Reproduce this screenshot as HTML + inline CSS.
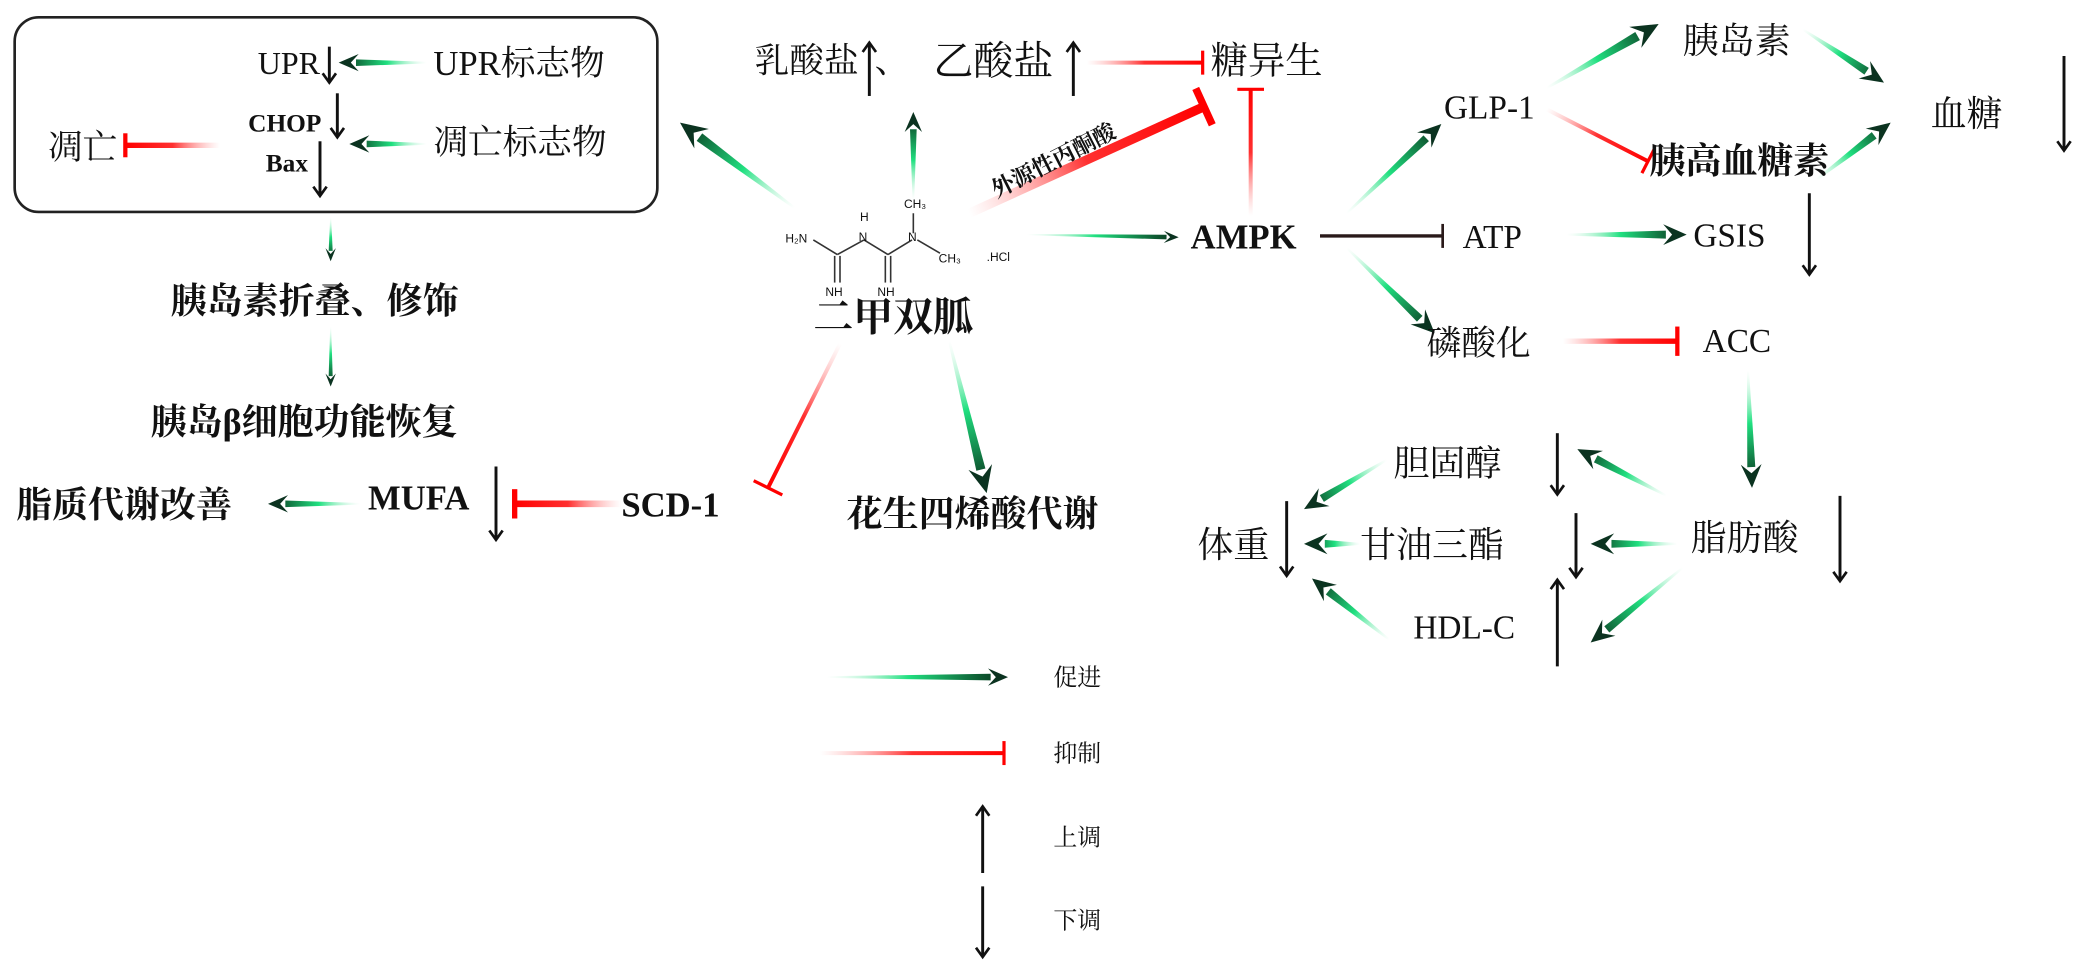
<!DOCTYPE html>
<html><head><meta charset="utf-8">
<style>
html,body{margin:0;padding:0;background:#fff;width:2080px;height:969px;overflow:hidden}
svg{display:block}
text{font-family:"Liberation Serif","Noto Serif CJK SC",serif;fill:#111}
.b{font-weight:bold}
</style></head>
<body>
<svg id="s" width="2080" height="969" viewBox="0 0 1560 727" preserveAspectRatio="none" xmlns="http://www.w3.org/2000/svg">
<defs id="d"></defs>
<rect x="11" y="13" width="482" height="146" rx="18" ry="18" fill="none" stroke="#222" stroke-width="2"/>
<g id="g"></g>
<g stroke="#333" stroke-width="1.2" fill="none">
<line x1="610" y1="180" x2="628" y2="191"/>
<line x1="628" y1="191" x2="648" y2="180"/>
<line x1="648" y1="180" x2="666" y2="191"/>
<line x1="666" y1="191" x2="684" y2="180"/>
<line x1="688" y1="180" x2="705" y2="190"/>
<line x1="685" y1="175" x2="685" y2="160"/>
<line x1="626" y1="192" x2="626" y2="212"/><line x1="630" y1="192" x2="630" y2="212"/>
<line x1="664" y1="192" x2="664" y2="212"/><line x1="668" y1="192" x2="668" y2="212"/>
</g>
<g style="font-size:9px">
<text x="589" y="182" style="font-family:'Liberation Sans',sans-serif">H₂N</text>
<text x="645" y="166" style="font-family:'Liberation Sans',sans-serif">H</text>
<text x="644" y="181" style="font-family:'Liberation Sans',sans-serif">N</text>
<text x="681" y="181" style="font-family:'Liberation Sans',sans-serif">N</text>
<text x="678" y="156" style="font-family:'Liberation Sans',sans-serif">CH₃</text>
<text x="704" y="197" style="font-family:'Liberation Sans',sans-serif">CH₃</text>
<text x="740" y="196" style="font-family:'Liberation Sans',sans-serif">.HCl</text>
<text x="619" y="222" style="font-family:'Liberation Sans',sans-serif">NH</text>
<text x="658" y="222" style="font-family:'Liberation Sans',sans-serif">NH</text>
</g>
<g id="t"></g>
</svg>
<script>
var NS="http://www.w3.org/2000/svg",D=document.getElementById('d'),G=document.getElementById('g'),T=document.getElementById('t'),n=0;
function el(p,tag,a){var e=document.createElementNS(NS,tag);for(var k in a)e.setAttribute(k,a[k]);p.appendChild(e);return e;}
function grad(x1,y1,x2,y2,stops){var id='g'+(n++);var g=el(D,'linearGradient',{id:id,gradientUnits:'userSpaceOnUse',x1:x1,y1:y1,x2:x2,y2:y2});stops.forEach(function(s){el(g,'stop',{offset:s[0],'stop-color':s[1],'stop-opacity':s[2]})});return 'url(#'+id+')';}
function ga(x1,y1,x2,y2,w){w=w||5;var dx=x2-x1,dy=y2-y1,L=Math.hypot(dx,dy),ux=dx/L,uy=dy/L,px=-uy,py=ux;var h=w*2.6;var bx=x2-ux*h,by=y2-uy*h;
var f=grad(x1,y1,x2,y2,[[0,'#b8f5d5',0],[0.45,'#20e080',1],[0.85,'#0e5a32',1],[1,'#0a2e1a',1]]);
var w0=w*0.25;el(G,'polygon',{points:[x1+px*w0/2,y1+py*w0/2,bx+px*w/2,by+py*w/2,bx-px*w/2,by-py*w/2,x1-px*w0/2,y1-py*w0/2].join(' '),fill:f});
var hw=w*1.3;el(G,'polygon',{points:[x2,y2,bx+px*hw-ux*2,by+py*hw-uy*2,bx+ux*h*0.3,by+uy*h*0.3,bx-px*hw-ux*2,by-py*hw-uy*2].join(' '),fill:'#0b3320'});}
function ra(x1,y1,x2,y2,w,tl,col){w=w||3;tl=tl||12;var dx=x2-x1,dy=y2-y1,L=Math.hypot(dx,dy),ux=dx/L,uy=dy/L,px=-uy,py=ux;
var f=col?col:grad(x1,y1,x2,y2,[[0,'#ff9a9a',0],[0.5,'#ff3030',1],[1,'#ff0000',1]]);
el(G,'line',{x1:x1,y1:y1,x2:x2,y2:y2,stroke:f,'stroke-width':w});
el(G,'line',{x1:x2+px*tl,y1:y2+py*tl,x2:x2-px*tl,y2:y2-py*tl,stroke:col?col:'#ff0000','stroke-width':Math.max(2,w*0.8)});}
function ka(x,y1,y2){el(G,'line',{x1:x,y1:y1,x2:x,y2:y2,stroke:'#111','stroke-width':2.2});var s=y2>y1?-1:1;
el(G,'polyline',{points:[x-5,y2+s*7,x,y2,x+5,y2+s*7].join(' '),fill:'none',stroke:'#111','stroke-width':2});}
function tx(s,x,y,sz,b,anchor,extra){var e=el(T,'text',{x:x,y:y+sz*0.36,'font-size':sz});if(b)e.setAttribute('class','b');if(anchor)e.setAttribute('text-anchor',anchor);if(extra)for(var k in extra)e.setAttribute(k,extra[k]);e.textContent=s;return e;}

tx('UPR',240,47,24,0,'end');ka(247,35,62);ga(320,47,254,47,5);tx('UPR标志物',325,47,26,0);
tx('CHOP',241,92,19,1,'end');ka(253,70,103);
tx('Bax',231,122,19,1,'end');ka(240,106,147);
ga(320,108,262,108,5);tx('凋亡标志物',325,106,26,0);
tx('凋亡',36,110,26,0);ra(165,109,94,109,4,9);
ga(248,163,248,196,3);tx('胰岛素折叠、修饰',128,225,27,1);
ga(248,245,248,290,3);tx('胰岛β细胞功能恢复',113,316,27,1);
tx('脂质代谢改善',12,378,27,1);ga(270,378,201,378,5);
tx('MUFA',276,373,26,1);ka(372,350,405);
ra(466,378,386,378,5,11);tx('SCD-1',466,378,26,1);
ra(630,258,576,366,3,12);
ga(712,256,740,370,7);tx('花生四烯酸代谢',635,385,27,1);
tx('二甲双胍',610,237,30,1);
ga(596,156,510,92,7);ga(685,150,685,84,5);
tx('乳酸盐',566,45,26,0);ka(652,72,32);tx('、',656,45,26,0);tx('乙酸盐',700,45,30,0);ka(805,72,32);
ra(815,47,902,47,3,9);tx('糖异生',908,45,28,0);
ra(727,160,903,80,7,15);
tx('外源性丙酮酸',790,120,17,1,'middle',{transform:'rotate(-27 790 120)'});
ra(938,162,938,67,3,10);
ga(770,176,884,178,3.5);tx('AMPK',893,177,26,1);
ra(990,177,1082,177,2.5,9,'#2a1a1a');
tx('ATP',1097,177,25,0);ga(1175,176,1265,176,6);tx('GSIS',1270,176,25,0);ka(1357,145,206);
ga(1010,160,1081,93,6);tx('GLP-1',1083,80,25,0);
ga(1160,66,1244,18,7);tx('胰岛素',1262,30,27,0);
ga(1352,22,1413,62,6);tx('血糖',1448,85,27,0);ka(1548,42,113);
ra(1160,82,1236,121,3,10);tx('胰高血糖素',1237,120,27,1);
ga(1362,135,1418,92,6);
ga(1010,186,1076,250,6);tx('磷酸化',1070,257,26,0);
ra(1172,256,1258,256,4,11);tx('ACC',1277,255,25,0);
ga(1311,278,1314,366,6);
tx('脂肪酸',1268,403,27,0);ka(1380,372,436);
tx('胆固醇',1045,347,27,0);ka(1168,325,371);
tx('体重',898,408,27,0);ka(965,376,432);
tx('甘油三酯',1020,408,27,0);ka(1182,385,433);
tx('HDL-C',1060,470,25,0);ka(1168,500,435);
ga(1250,372,1183,337,6);ga(1258,408,1193,408,6);ga(1262,426,1193,482,6);
ga(1040,345,978,382,6);ga(1020,408,978,408,6);ga(1042,480,984,434,6);
ga(620,508,756,508,5);tx('促进',790,508,18,0);
ra(615,565,753,565,3,9);tx('抑制',790,565,18,0);
ka(737,655,605);tx('上调',790,628,18,0);
ka(737,665,718);tx('下调',790,690,18,0);
</script>
</body></html>
